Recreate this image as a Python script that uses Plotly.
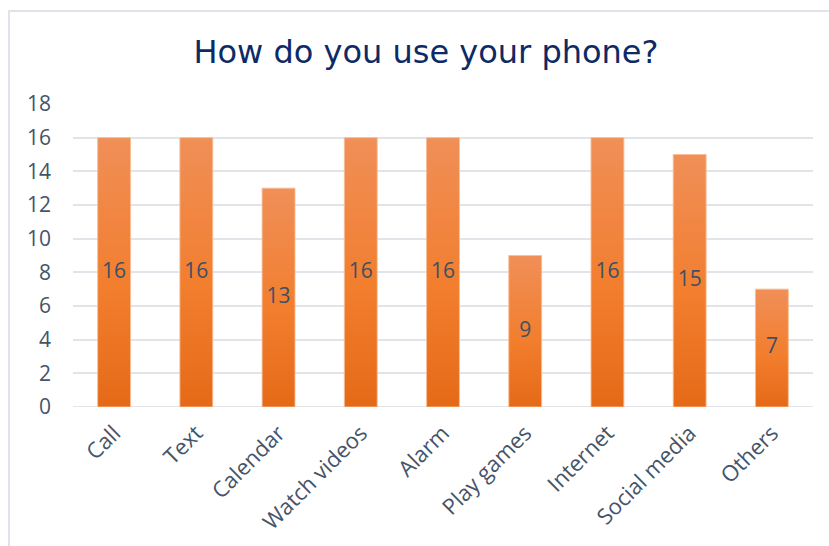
import plotly.graph_objects as go

# Survey responses: how people use their phone
categories = ["Call", "Text", "Calendar", "Watch videos", "Alarm",
              "Play games", "Internet", "Social media", "Others"]
counts = [16, 16, 13, 16, 16, 9, 16, 15, 7]
y_ticks = [0, 2, 4, 6, 8, 10, 12, 14, 16, 18]

BAR_HALF = 0.2
TEXT_COLOR = "#44546a"
positions = list(range(len(categories)))

fig = go.Figure()

# Each bar is a filled polygon so it can carry a vertical gradient
for i, v in zip(positions, counts):
    fig.add_trace(go.Scatter(
        x=[i - BAR_HALF, i + BAR_HALF, i + BAR_HALF, i - BAR_HALF, i - BAR_HALF],
        y=[0, 0, v, v, 0],
        mode="lines",
        line=dict(color="rgba(247,190,150,0.9)", width=1),
        fill="toself",
        fillgradient=dict(
            type="vertical",
            start=0, stop=v,
            colorscale=[[0, "#e56a17"], [0.45, "#f27e2e"], [1, "#f08f58"]],
        ),
        hovertemplate=f"{categories[i]}: {v}<extra></extra>",
        showlegend=False,
    ))

# Value labels centred half-way up each bar
fig.add_trace(go.Scatter(
    x=positions,
    y=[v / 2 for v in counts],
    mode="text",
    text=[str(v) for v in counts],
    textposition="middle center",
    textfont=dict(family="Open Sans", size=21, color="#404f63"),
    hoverinfo="skip",
    showlegend=False,
))

fig.update_layout(
    width=829, height=546,
    margin=dict(l=73, r=16, t=104, b=139),
    paper_bgcolor="white",
    plot_bgcolor="white",
    title=dict(
        text="How do you use your phone?",
        x=426 / 829, xanchor="center", xref="container",
        y=1 - 52 / 546, yanchor="middle",
        font=dict(family="DejaVu Sans", size=32, color="#0e2a66"),
    ),
    xaxis=dict(
        range=[-0.5, len(categories) - 0.5],
        tickvals=positions,
        ticktext=categories,
        tickangle=-45,
        tickfont=dict(family="Open Sans", size=22, color=TEXT_COLOR),
        showgrid=False,
        zeroline=False,
        showline=False,
        ticks="",
        ticklabelstandoff=8,
        fixedrange=True,
    ),
    yaxis=dict(
        range=[0, 18],
        tickvals=y_ticks,
        tickfont=dict(family="Open Sans", size=21, color=TEXT_COLOR),
        showgrid=True,
        gridcolor="#e1e4e9",
        gridwidth=1.5,
        zeroline=False,
        showline=False,
        ticks="",
        ticklabelstandoff=21,
        fixedrange=True,
    ),
    shapes=[
        # Baseline under the bars
        dict(type="line", xref="paper", yref="y", x0=0, x1=1, y0=0, y1=0,
             line=dict(color="#d9dde3", width=1.5), layer="below"),
        # Outer chart frame (top and left edges visible)
        dict(type="rect", xref="paper", yref="paper",
             x0=-64 / 740, x1=1.1, y0=-0.6, y1=(407 - 11) / 303,
             line=dict(color="#dfe4ea", width=2), layer="below"),
    ],
)

fig.write_html("out.html")
